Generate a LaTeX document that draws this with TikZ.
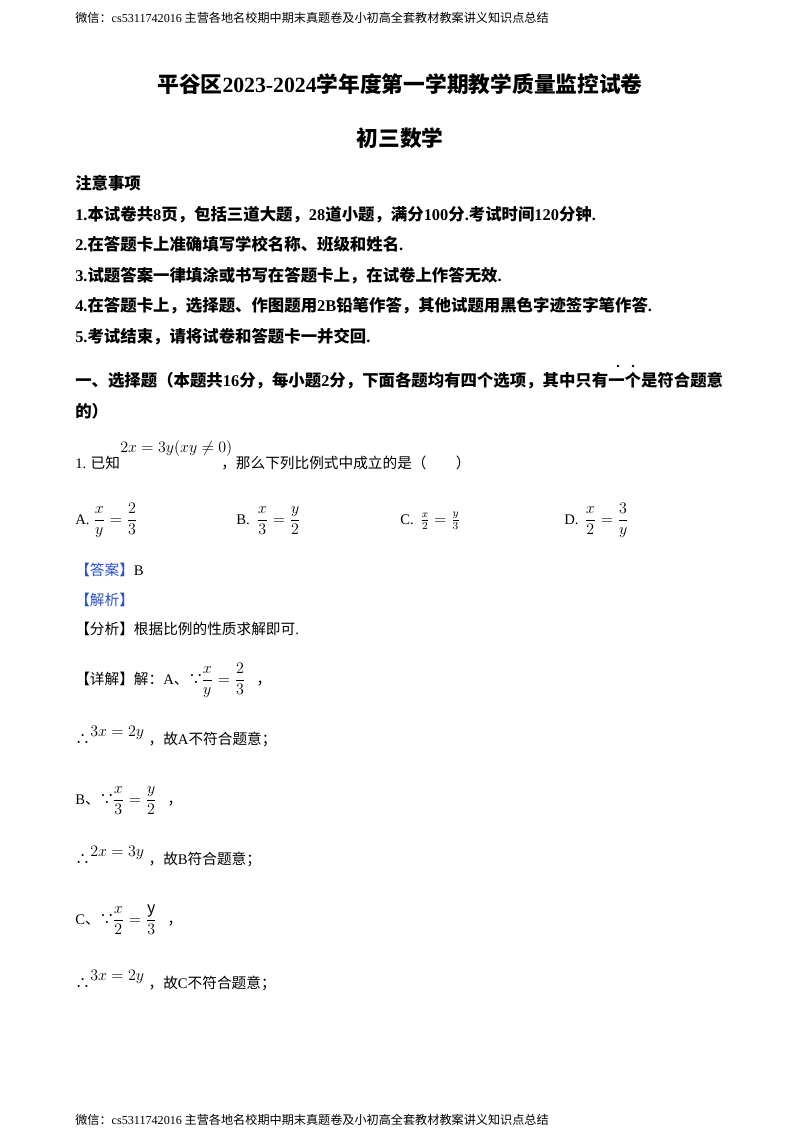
\documentclass[tikz,border=0pt]{standalone}
\usepackage{amsmath}
\usepackage{fontspec}
\setmainfont{Noto Sans CJK SC}
\newfontfamily\lat{Liberation Serif}
\tikzset{t/.style={anchor=base west,inner sep=0pt,font=\fontsize{11}{13}\selectfont},
 hd/.style={anchor=base west,inner sep=0pt,font=\fontsize{12.3}{14}\selectfont\bfseries},
 m/.style={anchor=base west,inner sep=0pt,font=\fontsize{12}{14}\selectfont},
 foot/.style={anchor=base west,inner sep=0pt,font=\fontsize{9.1}{10}\selectfont}}
\definecolor{blu}{RGB}{40,80,200}
\begin{document}
\begin{tikzpicture}[x=0.75pt,y=-0.75pt]
\useasboundingbox (0,0) rectangle (800,1132);
\node[foot] (h) at (75,22) {微信：{\lat cs5311742016} 主营各地名校期中期末真题卷及小初高全套教材教案讲义知识点总结};
\node[anchor=base,inner sep=0pt,font=\fontsize{16.3}{18}\selectfont\bfseries] (t1) at (400,92) {平谷区{\lat\bfseries 2023-2024}学年度第一学期教学质量监控试卷};
\node[anchor=base,inner sep=0pt,font=\fontsize{16.3}{18}\selectfont\bfseries] (t2) at (400,146) {初三数学};
\node[hd] (z0) at (75,189) {注意事项};
\node[hd] (z1) at (75,220) {{\lat\bfseries 1.}本试卷共{\lat\bfseries 8}页，包括三道大题，{\lat\bfseries 28}道小题，满分{\lat\bfseries 100}分{\lat\bfseries .}考试时间{\lat\bfseries 120}分钟{\lat\bfseries .}};
\node[hd] (z2) at (75,250) {{\lat\bfseries 2.}在答题卡上准确填写学校名称、班级和姓名{\lat\bfseries .}};
\node[hd] (z3) at (75,281) {{\lat\bfseries 3.}试题答案一律填涂或书写在答题卡上，在试卷上作答无效{\lat\bfseries .}};
\node[hd] (z4) at (75,311) {{\lat\bfseries 4.}在答题卡上，选择题、作图题用{\lat\bfseries 2B}铅笔作答，其他试题用黑色字迹签字笔作答{\lat\bfseries .}};
\node[hd] (z5) at (75,342) {{\lat\bfseries 5.}考试结束，请将试卷和答题卡一并交回{\lat\bfseries .}};
\node[hd] (s1) at (75,386) {一、选择题（本题共{\lat\bfseries 16}分，每小题{\lat\bfseries 2}分，下面各题均有四个选项，其中只有一个是符合题意};
\node[hd] (s2) at (75,417) {的）};
\fill (618,366) circle (1.3) (633,366) circle (1.3);
\node[t] (q1) at (75,468) {{\lat 1.} 已知\hspace{76pt}，那么下列比例式中成立的是（\hspace{2em}）};
\node[m] (q1m) at (120,452) {$2x=3y(xy\neq0)$};
\node[t] (oa) at (75,524) {\lat A.};
\node[m] (oam) at (93,524) {$\dfrac{x}{y}=\dfrac{2}{3}$};
\node[t] (ob) at (236,524) {\lat B.};
\node[m] (obm) at (256,524) {$\dfrac{x}{3}=\dfrac{y}{2}$};
\node[t] (oc) at (400,524) {\lat C.};
\node[m] (ocm) at (420,524) {$\frac{x}{2}=\frac{y}{3}$};
\node[t] (od) at (564,524) {\lat D.};
\node[m] (odm) at (584,524) {$\dfrac{x}{2}=\dfrac{3}{y}$};
\node[t] (ans) at (75,575) {{\color{blu}【答案】}{\lat B}};
\node[t] (jx) at (75,605) {\color{blu}【解析】};
\node[t] (fx) at (75,634) {【分析】根据比例的性质求解即可{\lat .}};
\node[t] (xj) at (75,684) {【详解】解：{\lat A}、∵\hspace{40pt}，};
\node[m] (xjm) at (201,684) {$\dfrac{x}{y}=\dfrac{2}{3}$};
\node[t] (r1) at (75,744) {∴\hspace{44pt}，故{\lat A}不符合题意；};
\node[m] (r1m) at (90,736) {$3x=2y$};
\node[t] (b1) at (75,804) {{\lat B}、∵\hspace{40pt}，};
\node[m] (b1m) at (112,804) {$\dfrac{x}{3}=\dfrac{y}{2}$};
\node[t] (r2) at (75,864) {∴\hspace{44pt}，故{\lat B}符合题意；};
\node[m] (r2m) at (90,856) {$2x=3y$};
\node[t] (c1) at (75,924) {{\lat C}、∵\hspace{40pt}，};
\node[m] (c1m) at (112,924) {$\dfrac{x}{2}=\dfrac{\mathrm{y}}{3}$};
\node[t] (r3) at (75,988) {∴\hspace{44pt}，故{\lat C}不符合题意；};
\node[m] (r3m) at (90,980) {$3x=2y$};
\node[foot] (f) at (75,1124) {微信：{\lat cs5311742016} 主营各地名校期中期末真题卷及小初高全套教材教案讲义知识点总结};
\end{tikzpicture}
\end{document}
